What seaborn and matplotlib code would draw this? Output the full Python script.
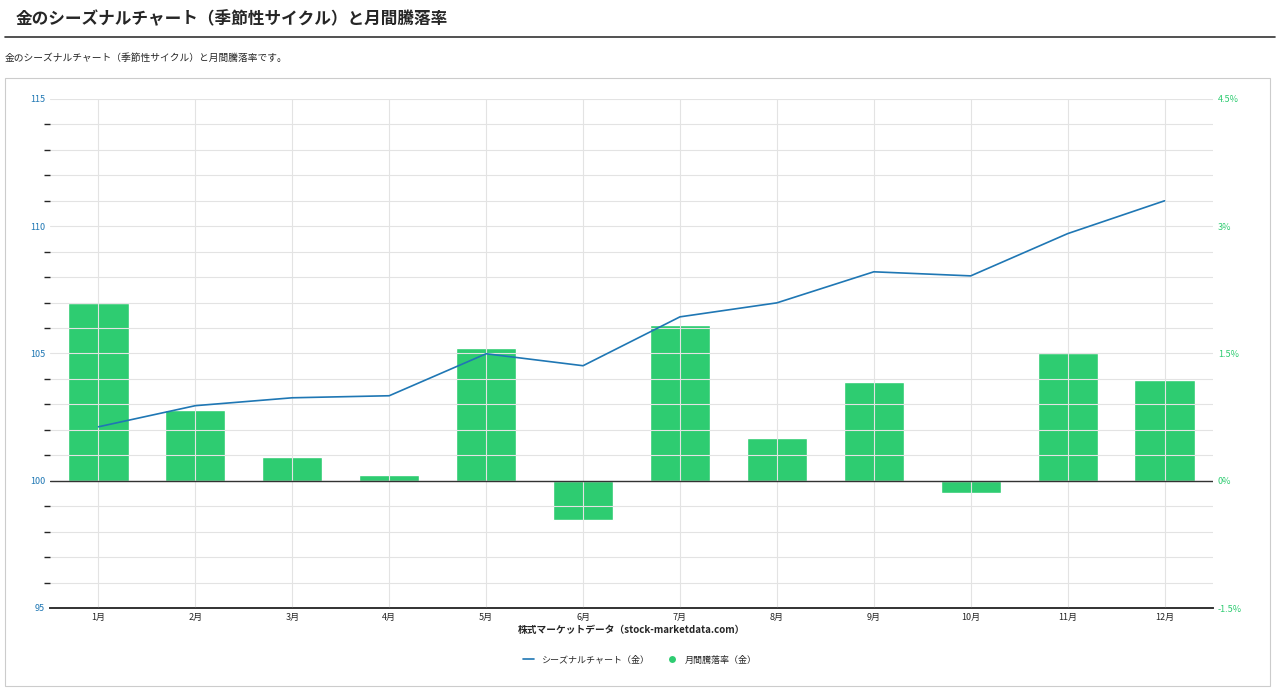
import matplotlib
matplotlib.use("Agg")
import matplotlib.pyplot as plt
from matplotlib.patches import Rectangle
from matplotlib.lines import Line2D
import seaborn as sns
import pandas as pd

months = ["1月", "2月", "3月", "4月", "5月", "6月", "7月", "8月", "9月", "10月", "11月", "12月"]
seasonal = [102.12, 102.95, 103.26, 103.34, 104.99, 104.52, 106.44, 106.99, 108.21, 108.05, 109.71, 111.0]
monthly_pct = [2.10, 0.83, 0.28, 0.07, 1.57, -0.46, 1.84, 0.50, 1.16, -0.14, 1.51, 1.19]

sns.set_theme(style="white")
plt.rcParams['font.family'] = ['Noto Sans CJK JP', 'DejaVu Sans']

BLUE = "#1f77b4"
GREEN = "#2ecc71"

fig = plt.figure(figsize=(12.8, 6.97), dpi=100)
fig.text(0.012, 0.972, "金のシーズナルチャート（季節性サイクル）と月間騰落率", fontsize=12, fontweight="bold", va="center")
fig.add_artist(Line2D([0.004, 0.996], [0.947, 0.947], color="#333333", lw=1.2))
fig.text(0.004, 0.917, "金のシーズナルチャート（季節性サイクル）と月間騰落率です。", fontsize=7, va="center")
fig.add_artist(Rectangle((0.004, 0.016), 0.988, 0.872, fill=False, edgecolor="#cccccc", lw=0.8))

ax = fig.add_axes([50 / 1280, 1 - 608 / 697, 1163 / 1280, 509 / 697])
ax2 = ax.twinx()

df = pd.DataFrame({"month": months, "seasonal": seasonal, "pct": monthly_pct})

sns.barplot(data=df, x="month", y="pct", color=GREEN, saturation=1, width=0.62, ax=ax2, zorder=2)
ax2.set_ylim(-1.5, 4.5)
ax2.set_yticks([-1.5, 0, 1.5, 3, 4.5])
ax2.set_yticklabels(["-1.5%", "0%", "1.5%", "3%", "4.5%"], color=GREEN, fontsize=6.5)
ax2.set_ylabel("")

ax.set_ylim(95, 115)
ax.set_yticks([95, 100, 105, 110, 115])
ax.set_yticks(range(95, 116), minor=True)
ax.tick_params(axis="y", colors=BLUE, labelsize=6.5, length=0)
ax.tick_params(axis="x", labelsize=6.5, length=0)
ax.grid(True, which="both", axis="y", color="#e3e3e3", lw=0.8)
ax.grid(True, axis="x", color="#e3e3e3", lw=0.8)
ax.set_axisbelow(True)
ax2.tick_params(axis="y", length=0)
ax.axhline(100, color="#333333", lw=1, zorder=1)

ax.set_zorder(ax2.get_zorder() + 1)
ax.patch.set_visible(False)
sns.lineplot(x=range(len(months)), y=seasonal, color=BLUE, lw=1.2, ax=ax)
ax.set_xticks(range(len(months)))
ax.set_xticklabels(months)
ax.set_xlim(-0.5, len(months) - 0.5)
ax2.set_xlim(-0.5, len(months) - 0.5)
ax.set_xlabel("株式マーケットデータ（stock-marketdata.com）", fontsize=7, fontweight="bold", labelpad=2)
ax.set_ylabel("")
for a in (ax, ax2):
    for s in ["top", "left", "right"]:
        a.spines[s].set_visible(False)
    a.spines["bottom"].set_color("#333333")

handles = [Line2D([], [], color=BLUE, lw=1.2),
           Line2D([], [], marker="o", color="w", markerfacecolor=GREEN, markersize=6)]
fig.legend(handles, ["シーズナルチャート（金）", "月間騰落率（金）"], loc="center",
           bbox_to_anchor=(0.5, 1 - 660 / 697), ncol=2, frameon=False, fontsize=6.5, handlelength=1.2)

fig.savefig("out.png", dpi=100)
